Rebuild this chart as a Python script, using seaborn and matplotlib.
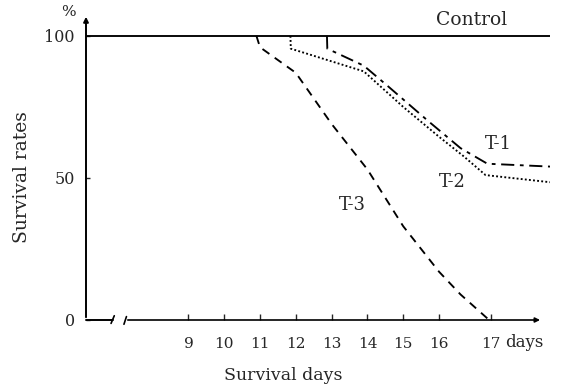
import matplotlib
matplotlib.use("Agg")
import matplotlib.pyplot as plt
import seaborn as sns
import pandas as pd

# values (x in day units, 17 sits a bit further right on the original axis)
t1_days = [12.87, 12.88, 13.9, 14.6, 15.7, 16.6, 17.35, 19.1]
t1_rate = [100, 95.5, 89.5, 82, 70, 60.5, 55, 54]
t2_days = [11.85, 11.86, 13.9, 15.0, 16.0, 16.7, 17.3, 19.1]
t2_rate = [100, 95.5, 87.5, 75, 64.5, 57.5, 51, 48.5]
t3_days = [10.9, 11.0, 12.0, 13.0, 14.0, 15.0, 16.0, 16.6, 17.4]
t3_rate = [100, 96, 87, 69, 53, 33, 17, 9, 0]
control_days = [6.14, 19.1]
control_rate = [100, 100]

tick_days = [9, 10, 11, 12, 13, 14, 15, 16, 17.45]
tick_labels = ["9", "10", "11", "12", "13", "14", "15", "16", "17"]
ytick_vals = [0, 50, 100]
ytick_labels = ["0", "50", "100"]

sns.set_style("white")
plt.rcParams["font.family"] = ["DejaVu Serif"]

fig = plt.figure(figsize=(5.66, 3.89), dpi=100)
ax = fig.add_axes([86 / 566, 69 / 389, 464 / 566, 306 / 389])

series = [
    (control_days, control_rate, None),
    (t1_days, t1_rate, (7, 3, 2, 3)),
    (t2_days, t2_rate, (1, 1.2)),
    (t3_days, t3_rate, (4.5, 3.5)),
]
for xs, ys, dash in series:
    df = pd.DataFrame({"day": xs, "rate": ys})
    line = sns.lineplot(data=df, x="day", y="rate", sort=False, estimator=None,
                        color="black", lw=1.35, ax=ax).lines[-1]
    if dash is not None:
        line.set_dashes(dash)

ax.set_xlim(6.14, 19.1)
ax.set_ylim(0, 107.7)

for s in ["top", "right", "bottom", "left"]:
    ax.spines[s].set_visible(False)

# y axis with arrow
ax.annotate("", xy=(0, 1.0), xytext=(0, 0), xycoords="axes fraction",
            arrowprops=dict(arrowstyle="-|>", lw=1.4, color="black", mutation_scale=7))
# broken x axis
ax.plot([6.14, 6.89], [0, 0], color="black", lw=1.4, clip_on=False)
ax.plot([6.84, 6.93], [-1.2, 1.5], color="black", lw=1.2, clip_on=False)
ax.plot([7.2, 7.27], [-1.5, 1.2], color="black", lw=1.2, clip_on=False)
ax.annotate("", xy=(18.9, 0), xytext=(7.23, 0), xycoords="data",
            arrowprops=dict(arrowstyle="-|>", lw=1.2, color="black", mutation_scale=7))

ax.set_xticks(tick_days)
ax.set_xticklabels(tick_labels)
ax.set_yticks(ytick_vals)
ax.set_yticklabels(ytick_labels)
ax.tick_params(axis="x", direction="in", length=4, width=1, pad=12, labelsize=11, bottom=True)
ax.tick_params(axis="y", direction="in", length=3, width=1, pad=8, labelsize=11.5, left=True)
ax.set_xlabel("")
ax.set_ylabel("")

ax.text(17.85, -8.0, "days", ha="left", va="center", fontsize=12, clip_on=False)
ax.text(16.92, 105.6, "Control", ha="center", va="center", fontsize=13.5)
ax.text(17.65, 62, "T-1", ha="center", va="center", fontsize=13)
ax.text(16.37, 48.6, "T-2", ha="center", va="center", fontsize=13)
ax.text(13.57, 40.5, "T-3", ha="center", va="center", fontsize=13)

fig.text(68 / 566, 1 - 12 / 389, "%", ha="center", va="center", fontsize=11)
fig.text(22 / 566, 1 - 177 / 389, "Survival rates", rotation=90, ha="center", va="center", fontsize=13.5)
fig.text(283 / 566, 1 - 376 / 389, "Survival days", ha="center", va="center", fontsize=12.5)

fig.savefig("out.png", dpi=100)
